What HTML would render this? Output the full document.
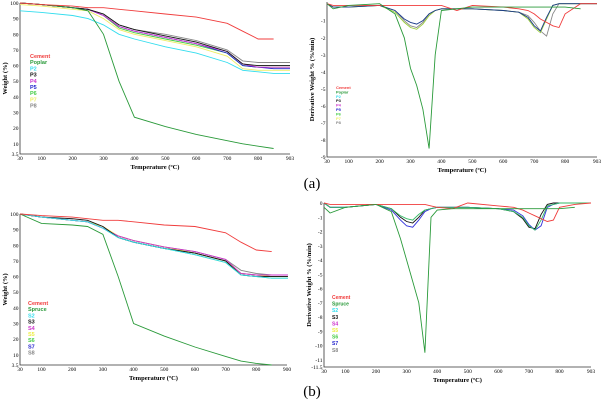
<!DOCTYPE html>
<html><head><meta charset="utf-8">
<style>
body{margin:0;background:#fff;width:605px;height:405px;overflow:hidden}
svg{display:block;font-family:"Liberation Serif",serif}
</style></head><body>
<svg id="c" width="605" height="405" viewBox="0 0 605 405">
<text x="312" y="188" font-size="15" text-anchor="middle">(a)</text>
<text x="312" y="396" font-size="15" text-anchor="middle">(b)</text>
</svg>
<script>
// ---- data ----
const tgaTemps=[30,100,200,250,300,350,400,500,600,700,750,800,850,903];
const tgaA_names=["Cement","Poplar","P2","P3","P4","P5","P6","P7","P8"];
const tgaA_Cement=[100,99,98,97,97,96,95,93,91,87,82,77,77,null];
const tgaA_Poplar=[100,99,97,95,80,50,27,21,16,12,10,8.5,7,null];
const tgaA_P2=[95,94,92,90,86,80,77,72,68,62,57,56,55,55];
const tgaA_P3=[100,99,97,96,93,86,83,79,75,69,61,60,60,60];
const tgaA_P4=[100,99,97,96,92,85,82,78,74,69,61,59,59,59];
const tgaA_P5=[100,99,97,96,92,85,82,78,74,68,60,59,58,58];
const tgaA_P6=[100,99,97,96,92,84,81,77,73,68,60,59,59,59];
const tgaA_P7=[99,98,96,95,90,83,80,76,72,66,58,57,57,57];
const tgaA_P8=[100,99,97,96,93,86,83,80,76,70,63,62,62,62];
const tgaB_names=["Cement","Spruce","S2","S3","S4","S5","S6","S7","S8"];
const tgaB_Cement=[100,99,98,97,96,96,95,93,92,88,82,77,76,null];
const tgaB_Spruce=[100,94,93,92,87,60,30,22,15,9,6,4.5,3.5,null];
const tgaB_S2=[100,98,96,95,91,85,82,78,74,69,61,60,59,59];
const tgaB_S3=[100,98,97,96,92,85,82,78,75,70,61,60,60,60];
const tgaB_S4=[100,98,96,95,91,86,83,79,76,71,62,61,61,61];
const tgaB_S5=[100,98,96,95,92,86,83,79,75,70,62,61,60,60];
const tgaB_S6=[100,98,96,95,91,85,82,78,74,69,61,60,59,59];
const tgaB_S7=[100,98,96,95,91,85,82,78,75,70,62,61,60,60];
const tgaB_S8=[100,98,96,95,91,86,83,79,76,71,64,62,61,61];
const dtgTemps=[30,50,100,200,250,280,300,320,340,360,380,400,450,500,600,650,680,700,720,740,760,780,800,850,903];
const dtgA_Cement=[0,-0.1,-0.1,-0.1,-0.1,-0.1,-0.1,-0.1,-0.1,-0.1,-0.1,-0.1,-0.4,-0.1,-0.2,-0.3,-0.4,-0.6,-0.9,-1.1,-1.3,-1.4,-0.6,0,0];
const dtgA_Poplar=[0,-0.3,-0.1,0,-0.6,-2,-3.8,-4.8,-6.2,-8.5,-3,-0.4,-0.3,-0.2,-0.2,-0.2,-0.2,-0.2,-0.2,-0.2,-0.2,-0.2,-0.2,-0.3,null];
const dtgA_P=[0,-0.2,-0.2,-0.1,-0.4,-0.9,-1.1,-1.2,-1.0,-0.6,-0.4,-0.3,-0.3,-0.3,-0.4,-0.5,-0.8,-1.3,-1.6,-0.8,-0.1,0,0,0,0];
const dtgA_P2=[0,-0.2,-0.2,-0.1,-0.5,-1.1,-1.4,-1.5,-1.2,-0.7,-0.4,-0.3,-0.3,-0.3,-0.4,-0.5,-0.9,-1.4,-1.7,-0.9,-0.1,0,0,0,0];
const dtgA_P8=[0,-0.2,-0.2,-0.1,-0.4,-1.0,-1.3,-1.4,-1.1,-0.6,-0.4,-0.3,-0.3,-0.3,-0.4,-0.5,-0.7,-1.1,-1.6,-1.9,-0.6,0,0,0,0];
const dtgB_Cement=[0,-0.1,-0.1,-0.1,-0.1,-0.1,-0.1,-0.1,-0.1,-0.1,-0.2,-0.3,-0.4,0,-0.2,-0.3,-0.5,-0.7,-0.9,-1.1,-1.3,-1.2,-0.3,-0.1,0];
const dtgB_Spruce=[-0.3,-0.7,-0.3,-0.1,-0.6,-2.5,-4,-5.5,-7,-10.5,-1,-0.5,-0.4,-0.4,-0.4,-0.4,-0.4,-0.4,-0.4,-0.4,-0.4,-0.4,-0.4,-0.3,null];
const dtgB_S=[0,-0.3,-0.3,-0.1,-0.4,-0.9,-1.1,-1.2,-0.8,-0.5,-0.4,-0.3,-0.3,-0.3,-0.4,-0.6,-1.0,-1.6,-1.9,-1.2,-0.2,-0.1,0,0,0];
const dtgB_S7=[0,-0.3,-0.3,-0.1,-0.5,-1.2,-1.6,-1.7,-1.2,-0.6,-0.4,-0.3,-0.3,-0.3,-0.4,-0.5,-0.9,-1.5,-1.9,-1.6,-0.3,-0.1,0,0,0];
const dtgB_S3=[0,-0.3,-0.3,-0.1,-0.4,-1.0,-1.3,-1.4,-1.0,-0.5,-0.4,-0.3,-0.3,-0.3,-0.4,-0.6,-1.1,-1.7,-1.8,-0.8,-0.1,0,0,0,0];
const tgaTicks=[30,100,200,300,400,500,600,700,800,903];
const tgaTicksB=[30,100,200,300,400,500,600,700,800,900];
const tgaYTicks=[3.5,10,20,30,40,50,60,70,80,90,100];
const dtgYTicksA=[-9,-8,-7,-6,-5,-4,-3,-2,-1];
const dtgYTicksB=[-11.5,-11,-10,-9,-8,-7,-6,-5,-4,-3,-2,-1,0];
const colors={Cement:"#f03c3c",Poplar:"#2a9a3a",Spruce:"#2a9a3a",P2:"#33ddee",S2:"#33ddee",P3:"#111",S3:"#111",P4:"#cc33cc",S4:"#cc33cc",P5:"#2222cc",S5:"#eeee44",P6:"#44cc44",S6:"#44cc44",P7:"#eeee66",S7:"#2222cc",P8:"#888",S8:"#888"};
const NS="http://www.w3.org/2000/svg";
const svg=document.getElementById('c');
function el(t,a,p){const e=document.createElementNS(NS,t);for(const k in a)e.setAttribute(k,a[k]);(p||svg).appendChild(e);return e;}
function panel(id,box,xd,yd,xt,yt,ylab,series,legend,legPos){
  const g=el('g',{});
  
  
  const sx=v=>box.x0+(v-xd[0])/(xd[1]-xd[0])*(box.x1-box.x0);
  const sy=v=>box.y1-(v-yd[0])/(yd[1]-yd[0])*(box.y1-box.y0);
  const ax=el('path',{d:`M${box.x0} ${box.y0}V${box.y1}H${box.x1}`,stroke:"#333","stroke-width":0.8,fill:"none"},g);
  
  
  xt.forEach(v=>{const t=el('text',{x:sx(v),y:box.y1+6,"font-size":5.5,"text-anchor":"middle"},g);t.textContent=v;
    });
  yt.forEach(v=>{const t=el('text',{x:box.x0-1.5,y:sy(v)+2,"font-size":5.5,"text-anchor":"end"},g);t.textContent=v;
    });
  const xtl=el('text',{x:(box.x0+box.x1)/2,y:box.y1+15,"font-size":6.5,"font-weight":"bold","text-anchor":"middle"},g);
  xtl.textContent="Temperature (ºC)";
  
  const cy=(box.y0+box.y1)/2;
  const ytl=el('text',{x:box.x0-13,y:cy,"font-size":6.5,"font-weight":"bold","text-anchor":"middle",transform:`rotate(-90 ${box.x0-13} ${cy})`},g);
  ytl.textContent=ylab;
  
  series.forEach(s=>{let d="";let m=true;
    s.temps.forEach((t,i)=>{const v=s.vals[i];if(v===null){m=true;return;}d+=(m?"M":"L")+sx(t).toFixed(1)+" "+sy(v).toFixed(1);m=false;});
    const p=el('path',{d,stroke:s.color,"stroke-width":0.9,fill:"none"},g);
    
    });
  legend.forEach((n,i)=>{const t=el('text',{x:legPos[0],y:legPos[1]+i*legPos[2],"font-size":legPos[3],"font-weight":"bold","font-family":"Liberation Sans",fill:colors[n]},g);t.textContent=n;
    });
}
panel('chart-a-tga',{x0:20,x1:290,y0:3,y1:154},[30,903],[3.5,100],tgaTicks,tgaYTicks,"Weight (%)",
 tgaA_names.map(n=>({name:n,temps:tgaTemps,vals:eval('tgaA_'+n),color:colors[n]})).reverse(),tgaA_names,[30,58,6.2,5.5]);
panel('chart-b-tga',{x0:20,x1:287,y0:214,y1:365},[30,900],[3.5,100],tgaTicksB,tgaYTicks,"Weight (%)",
 tgaB_names.map(n=>({name:n,temps:tgaTemps,vals:eval('tgaB_'+n),color:colors[n]})).reverse(),tgaB_names,[28,305,6.2,5.5]);
panel('chart-a-dtg',{x0:327,x1:597,y0:2,y1:157},[30,903],[-9,0.1],tgaTicks,dtgYTicksA,"Derivative Weight % (%/min)",[
 {name:"P8",temps:dtgTemps,vals:dtgA_P8,color:"#888"},
 {name:"P2",temps:dtgTemps,vals:dtgA_P2,color:"#9acd3a"},
 {name:"P",temps:dtgTemps,vals:dtgA_P,color:"#1a3a8a"},
 {name:"Cement",temps:dtgTemps,vals:dtgA_Cement,color:colors.Cement},
 {name:"Poplar",temps:dtgTemps,vals:dtgA_Poplar,color:colors.Poplar}],tgaA_names,[336,89,4.4,4]);
panel('chart-b-dtg',{x0:324,x1:591,y0:203,y1:367},[30,903],[-11.5,0],tgaTicks,dtgYTicksB,"Derivative Weight % (%/min)",[
 {name:"S3",temps:dtgTemps,vals:dtgB_S3,color:"#111"},
 {name:"S7",temps:dtgTemps,vals:dtgB_S7,color:"#3333dd"},
 {name:"S",temps:dtgTemps,vals:dtgB_S,color:"#33bb66"},
 {name:"Cement",temps:dtgTemps,vals:dtgB_Cement,color:colors.Cement},
 {name:"Spruce",temps:dtgTemps,vals:dtgB_Spruce,color:colors.Spruce}],tgaB_names,[332,299,6.6,5]);
</script>
</body></html>
